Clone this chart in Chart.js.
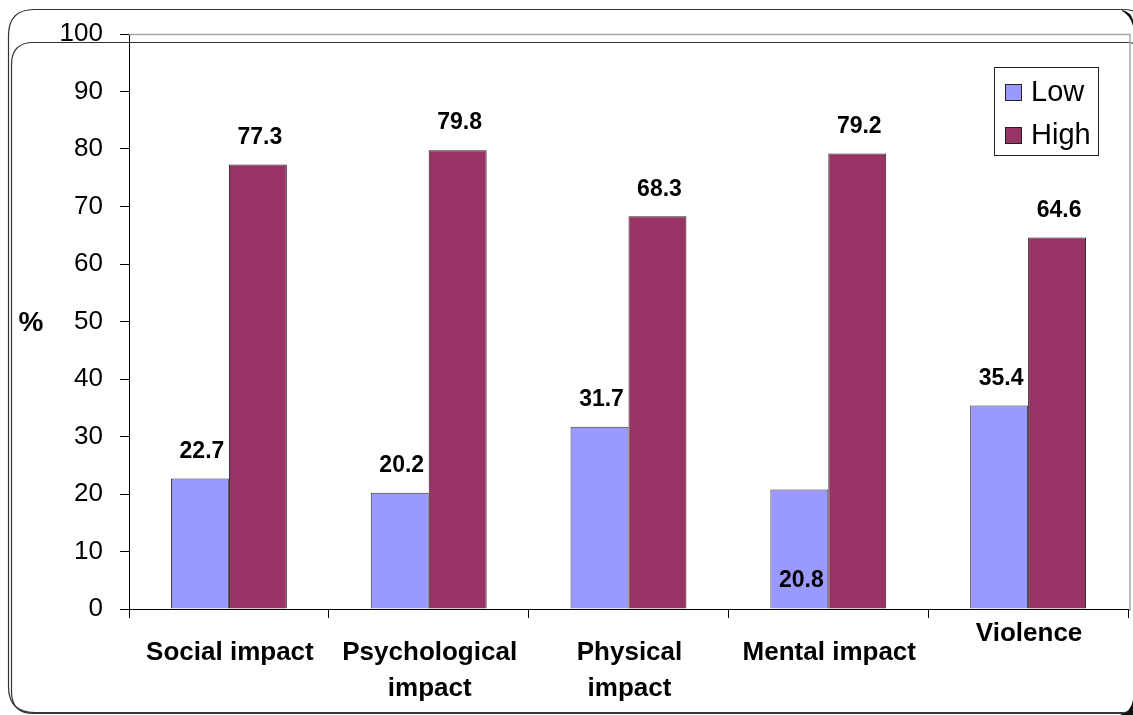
<!DOCTYPE html>
<html>
<head>
<meta charset="utf-8">
<script src="https://cdn.jsdelivr.net/npm/chart.js@4.4.1/dist/chart.umd.min.js"></script>
<style>
  html, body { margin: 0; padding: 0; background: #fff; }
  #wrap { position: relative; width: 1133px; height: 715px; }
</style>
</head>
<body>
<div id="wrap"><canvas id="myChart" width="1133" height="715"></canvas></div>
<script>
var categorias = [["Social impact"], ["Psychological", "impact"], ["Physical", "impact"], ["Mental impact"], ["Violence"]];
var baixo = [22.7, 20.2, 31.7, 20.8, 35.4];
var alto = [77.3, 79.8, 68.3, 79.2, 64.6];
var nomesSeries = ["Low", "High"];
var ticksY = [0, 10, 20, 30, 40, 50, 60, 70, 80, 90, 100];

// rotulos que ficam dentro da barra (serie, indice)
var rotuloDentro = [[0, 3]];
// deslocamento vertical do rotulo de categoria (Violence fica mais alto)
var subirCategoria = [0, 0, 0, 0, 19];

var fonte = "Arial, 'Liberation Sans', sans-serif";

function cantoArredondado(ctx, x, y, w, h, r) {
  ctx.beginPath();
  ctx.moveTo(x + r, y);
  ctx.lineTo(x + w - r, y);
  ctx.quadraticCurveTo(x + w, y, x + w, y + r);
  ctx.lineTo(x + w, y + h - r);
  ctx.quadraticCurveTo(x + w, y + h, x + w - r, y + h);
  ctx.lineTo(x + r, y + h);
  ctx.quadraticCurveTo(x, y + h, x, y + h - r);
  ctx.lineTo(x, y + r);
  ctx.quadraticCurveTo(x, y, x + r, y);
  ctx.closePath();
}

var moldura = {
  id: "moldura",
  beforeDraw: function (chart) {
    var ctx = chart.ctx;
    ctx.save();
    ctx.fillStyle = "#fff";
    ctx.fillRect(0, 0, chart.width, chart.height);
    ctx.strokeStyle = "#333";
    ctx.lineWidth = 1.2;
    cantoArredondado(ctx, 8.5, 9.5, 1140, 703, 26);
    ctx.stroke();
    cantoArredondado(ctx, 11.5, 42.5, 1137, 671, 22);
    ctx.stroke();
    // cantos escuros a direita
    ctx.fillStyle = "#111";
    ctx.beginPath();
    ctx.moveTo(1133, 700);
    ctx.quadraticCurveTo(1131, 712, 1120, 715);
    ctx.lineTo(1133, 715);
    ctx.closePath();
    ctx.fill();
    ctx.beginPath();
    ctx.moveTo(1122, 10);
    ctx.quadraticCurveTo(1131, 12, 1133, 20);
    ctx.lineTo(1133, 26);
    ctx.quadraticCurveTo(1130, 15, 1122, 11);
    ctx.closePath();
    ctx.fill();
    ctx.restore();
  },
  beforeDatasetsDraw: function (chart) {
    var ctx = chart.ctx;
    var a = chart.chartArea;
    ctx.save();
    ctx.strokeStyle = "#a6a6a6";
    ctx.lineWidth = 1.5;
    ctx.beginPath();
    ctx.moveTo(a.left, a.top + 0.5);
    ctx.lineTo(a.right + 2, a.top + 0.5);
    ctx.moveTo(a.right + 2, a.top);
    ctx.lineTo(a.right + 2, a.bottom + 2);
    ctx.stroke();
    ctx.restore();
  },
  afterDraw: function (chart) {
    var ctx = chart.ctx;
    var a = chart.chartArea;
    var xs = chart.scales.x;
    ctx.save();

    // rotulos de dados
    ctx.fillStyle = "#000";
    ctx.font = "bold 23px " + fonte;
    ctx.textAlign = "center";
    ctx.textBaseline = "middle";
    chart.data.datasets.forEach(function (ds, s) {
      var meta = chart.getDatasetMeta(s);
      meta.data.forEach(function (bar, i) {
        var dentro = rotuloDentro.some(function (p) { return p[0] == s && p[1] == i; });
        var y = dentro ? a.bottom - 28 : bar.y - 27;
        ctx.fillText(ds.data[i].toFixed(1), bar.x + 2, y);
      });
    });

    // rotulos de categoria
    ctx.font = "bold 26px " + fonte;
    categorias.forEach(function (linhas, i) {
      var x = xs.getPixelForValue(i);
      linhas.forEach(function (t, k) {
        ctx.fillText(t, x + 1, a.bottom + 44 + k * 36 - subirCategoria[i]);
      });
    });

    // titulo do eixo y
    ctx.font = "bold 28px " + fonte;
    ctx.fillText("%", 31, 323);

    // legenda
    var lx = 994, ly = 67;
    ctx.fillStyle = "#fff";
    ctx.fillRect(lx, ly, 105, 89);
    ctx.strokeStyle = "#222";
    ctx.lineWidth = 1;
    ctx.strokeRect(lx + 0.5, ly + 0.5, 104, 88);
    ctx.textAlign = "left";
    ctx.font = "29px " + fonte;
    chart.data.datasets.forEach(function (ds, s) {
      var cy = ly + 25 + s * 43;
      ctx.fillStyle = ds.backgroundColor;
      ctx.fillRect(lx + 11, cy - 8, 17, 17);
      ctx.strokeStyle = "#222";
      ctx.strokeRect(lx + 11.5, cy - 7.5, 16, 16);
      ctx.fillStyle = "#000";
      ctx.fillText(ds.label, lx + 37, cy + 1);
    });
    ctx.restore();
  }
};

var ctx = document.getElementById("myChart");
var data = {
  labels: categorias.map(function (c) { return c.join(" "); }),
  datasets: [
    {
      label: nomesSeries[0],
      data: baixo,
      backgroundColor: "#9999ff",
      borderColor: "#333",
      borderWidth: 1,
    },
    {
      label: nomesSeries[1],
      data: alto,
      backgroundColor: "#993366",
      borderColor: "#222",
      borderWidth: 1,
    },
  ],
};
var config = {
  type: "bar",
  data: data,
  options: {
    responsive: false,
    animation: false,
    layout: { padding: { top: 34, right: 5, left: 0, bottom: 0 } },
    datasets: { bar: { categoryPercentage: 0.58, barPercentage: 1 } },
    plugins: {
      legend: { display: false },
      tooltip: { enabled: false },
    },
    scales: {
      x: {
        ticks: { display: false },
        grid: {
          drawOnChartArea: false,
          drawTicks: true,
          tickLength: 9,
          color: "#000",
          offset: true,
        },
        border: { color: "#000", width: 1 },
        afterFit: function (scale) { scale.height = 106; },
      },
      y: {
        min: 0,
        max: 100,
        afterBuildTicks: function (scale) {
          scale.ticks = ticksY.map(function (v) { return { value: v }; });
        },
        ticks: {
          color: "#000",
          padding: 17,
          font: { family: fonte, size: 26 },
        },
        grid: {
          drawOnChartArea: false,
          drawTicks: true,
          tickLength: 9,
          color: "#000",
        },
        border: { color: "#000", width: 1 },
        afterFit: function (scale) { scale.width = 129; },
      },
    },
  },
  plugins: [moldura],
};

var myChart = new Chart(ctx, config);
</script>
</body>
</html>
